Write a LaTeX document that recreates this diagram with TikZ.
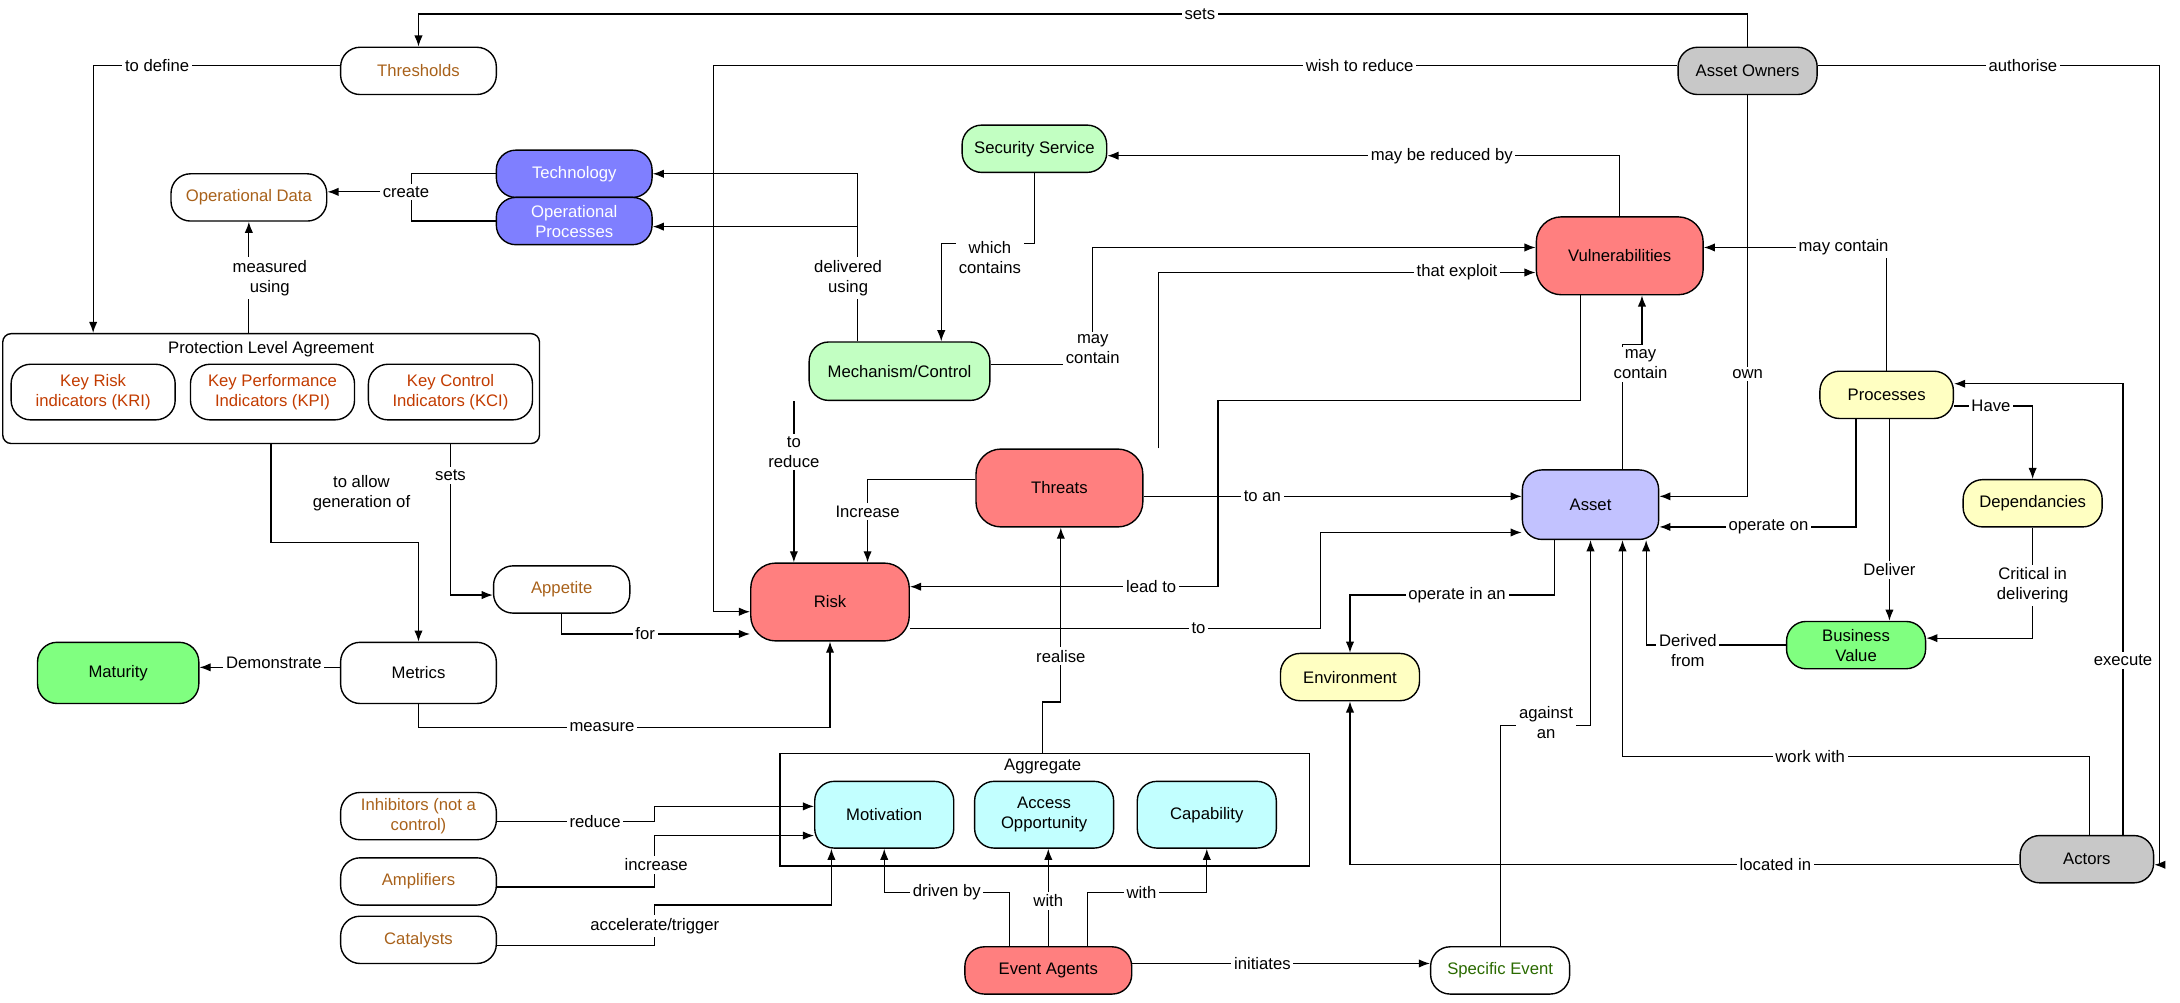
\documentclass[tikz,border=0pt]{standalone}
\usepackage{fontspec}
\setmainfont{Liberation Sans}
\usetikzlibrary{arrows.meta,positioning}
\definecolor{orng}{HTML}{A8611A}
\definecolor{redtxt}{HTML}{C23B00}
\definecolor{grntxt}{HTML}{2A6A00}
\definecolor{redf}{HTML}{FF7F7F}
\definecolor{bluef}{HTML}{7F7FFF}
\definecolor{lgreen}{HTML}{C2FFC2}
\definecolor{green}{HTML}{80FF80}
\definecolor{lyel}{HTML}{FFFFC2}
\definecolor{lav}{HTML}{C2C2FF}
\definecolor{cyanf}{HTML}{C2FFFF}
\definecolor{grayf}{HTML}{C8C8C8}
\tikzset{
  box/.style={draw, line width=0.5pt, rounded corners=7pt, align=center,
    minimum width=56pt, minimum height=17pt, inner sep=1pt, font=\fontsize{6}{7.2}\selectfont},
  big/.style={box, minimum width=60pt, minimum height=28pt, rounded corners=9pt},
  arr/.style={-{Latex[length=4pt,width=3pt]}, line width=0.45pt},
  ln/.style={line width=0.45pt},
  lbl/.style={fill=white, inner sep=1pt, align=center, font=\fontsize{6}{7.2}\selectfont},
}
\begin{document}
\begin{tikzpicture}[x=0.5pt,y=-0.5pt]
  \useasboundingbox (0,0) rectangle (1568,721);
  %Nodes
  \node[box, text=orng] (thr) at (301,51) {Thresholds};
  \node[box, fill=grayf, minimum width=50pt] (own) at (1257,51) {Asset Owners};
  \node[box, text=orng] (opd) at (179,142) {Operational Data};
  \node[box, fill=bluef, text=white] (tec) at (413,125) {Technology};
  \node[box, fill=bluef, text=white] (opp) at (413,159) {Operational\\Processes};
  \node[box, fill=lgreen, minimum width=52pt] (sec) at (744,107) {Security Service};
  \node[big, fill=redf] (vul) at (1165,184) {Vulnerabilities};
  \node[box, fill=lgreen, minimum width=65pt, minimum height=21pt] (mec) at (647,267) {Mechanism/Control};
  \node[box, fill=lyel, minimum width=48pt] (pro) at (1357,284) {Processes};
  \node[big, fill=redf] (thr2) at (762,351) {Threats};
  \node[box, fill=lav, minimum width=49pt, minimum height=25pt] (ast) at (1144,363) {Asset};
  \node[box, fill=lyel, minimum width=50pt] (dep) at (1462,362) {Dependancies};
  \node[box, text=orng, minimum width=49pt] (app) at (404,424) {Appetite};
  \node[big, fill=redf, minimum width=57pt] (rsk) at (597,433) {Risk};
  \node[box, fill=green, minimum width=50pt] (bv) at (1335,464) {Business\\Value};
  \node[box, fill=green, minimum width=58pt, minimum height=22pt] (mat) at (85,484) {Maturity};
  \node[box, minimum width=56pt, minimum height=22pt] (met) at (301,484) {Metrics};
  \node[box, fill=lyel, minimum width=50pt] (env) at (971,487) {Environment};
  \node[box, text=orng] (inh) at (301,587) {Inhibitors (not a\\control)};
  \node[box, text=orng] (amp) at (301,634) {Amplifiers};
  \node[box, text=orng] (cat) at (301,676) {Catalysts};
  \node[box, fill=redf, minimum width=60pt] (eva) at (754,698) {Event Agents};
  \node[box, text=grntxt, minimum width=50pt] (spe) at (1079,698) {Specific Event};
  \node[box, fill=grayf, minimum width=48pt] (act) at (1501,618) {Actors};
  %Protection Level Agreement
  \node[draw, line width=0.5pt, rounded corners=3pt, minimum width=193pt, minimum height=39.5pt] (pla) at (195,279.5) {};
  \node[font=\fontsize{6}{7.2}\selectfont] (plat) at (195,251) {Protection Level Agreement};
  \node[box, text=redtxt, minimum width=59pt, minimum height=20pt] (kri) at (67,282) {Key Risk\\indicators (KRI)};
  \node[box, text=redtxt, minimum width=59pt, minimum height=20pt] (kpi) at (196,282) {Key Performance\\Indicators (KPI)};
  \node[box, text=redtxt, minimum width=59pt, minimum height=20pt] (kci) at (324,282) {Key Control\\Indicators (KCI)};
  %Aggregate
  \node[draw, line width=0.5pt, minimum width=190.5pt, minimum height=40.5pt] (agg) at (751.5,582.5) {};
  \node[font=\fontsize{6}{7.2}\selectfont] (aggt) at (750,551) {Aggregate};
  \node[box, fill=cyanf, minimum width=50pt, minimum height=24pt] (mot) at (636,586) {Motivation};
  \node[box, fill=cyanf, minimum width=50pt, minimum height=24pt] (acc) at (751,586) {Access\\Opportunity};
  \node[box, fill=cyanf, minimum width=50pt, minimum height=24pt] (cap) at (868,586) {Capability};

  %Connectors
  \draw[arr] (own.north) -- (1257,10) -| (thr.north);
  \draw[arr] (thr.west |- 0,47) -| (pla.north -| 67,0);
  \draw[arr] (own.west |- 0,47) -| (513,440) -- (rsk.west |- 0,440);
  \draw[arr] (own.east |- 0,47) -| (1553,622) -- (act.east |- 0,622);
  \draw[arr] (own.south) |- (ast.east |- 0,357);
  \coordinate (cr) at (296,138);
  \draw[ln] (tec.west) -| (cr) |- (opp.west);
  \draw[arr] (cr) -- (opd.east |- cr);
  \draw[arr] (pla.north -| 179,0) -- (opd.south);
  \draw[arr] (mec.north -| 617,0) |- (tec.east);
  \draw[arr] (617,163) -- (opp.east |- 0,163);
  \draw[arr] (sec.south) |- (677,175) -- (mec.north -| 677,0);
  \draw[arr] (vul.north) |- (sec.east |- 0,112);
  \draw[arr] (mec.east |- 0,262) -| (786,178) -- (vul.west |- 0,178);
  \draw[arr] (thr2.north -| 833,0) |- (vul.west |- 0,196);
  \draw[arr] (mec.south -| 571,0) -- (rsk.north -| 571,0);
  \draw[arr] (thr2.west |- 0,345) -| (rsk.north -| 624,0);
  \draw[arr] (thr2.east |- 0,357) -- (ast.west |- 0,357);
  \draw[arr] (vul.south -| 1137,0) |- (876,288) |- (rsk.east |- 0,422);
  \draw[arr] (rsk.east |- 0,452) -| (950,383) -- (ast.west |- 0,383);
  \draw[arr] (ast.north -| 1167,0) -- (1167,248) -| (vul.south -| 1181,0);
  \draw[arr] (pro.north) |- (vul.east |- 0,178);
  \draw[arr] (pro.east |- 0,292) -| (dep.north);
  \draw[arr] (pro.south -| 1335,0) |- (ast.east |- 0,379);
  \draw[arr] (pro.south -| 1359,0) -- (bv.north -| 1359,0);
  \draw[arr] (dep.south) |- (bv.east |- 0,459);
  \draw[arr] (bv.west) -| (ast.south -| 1184,0);
  \draw[arr] (ast.south -| 1118,0) |- (971,428) -- (env.north);
  \draw[arr] (act.north -| 1527,0) |- (pro.east |- 0,276);
  \draw[arr] (act.north -| 1503,0) |- (1167,544) -- (ast.south -| 1167,0);
  \draw[arr] (act.west |- 0,622) -| (env.south);
  \draw[arr] (spe.north) |- (1144,522) -- (ast.south);
  \draw[arr] (eva.east |- 0,693) -- (spe.west |- 0,693);
  \draw[arr] (eva.north -| 726,0) |- (636,642) -- (mot.south);
  \draw[arr] (eva.north -| 754,0) -- (acc.south -| 754,0);
  \draw[arr] (eva.north -| 782,0) |- (868,642) -- (cap.south);
  \draw[arr] (agg.north -| 750,0) |- (763,505) -- (thr2.south -| 763,0);
  \draw[arr] (inh.east |- 0,591) -| (471,580) -- (mot.west |- 0,580);
  \draw[arr] (amp.east |- 0,638) -| (471,601) -- (mot.west |- 0,601);
  \draw[arr] (cat.east |- 0,680) -| (471,651) -| (mot.south -| 598,0);
  \draw[arr] (pla.south -| 195,0) |- (301,390) -- (met.north);
  \draw[arr] (pla.south -| 324,0) |- (app.west |- 0,428);
  \draw[arr] (app.south) |- (rsk.west |- 0,456);
  \draw[arr] (met.west |- 0,480) -- (mat.east |- 0,480);
  \draw[arr] (met.south) |- (597,523) -- (rsk.south);

  %Labels
  \node[lbl] (l1) at (863,10) {sets};
  \node[lbl] (l2) at (113,47) {to define};
  \node[lbl] (l3) at (978,47) {wish to reduce};
  \node[lbl] (l4) at (1455,47) {authorise};
  \node[lbl] (l5) at (1257,269) {own};
  \node[lbl] (l6) at (292,138) {create};
  \node[lbl] (l7) at (194,200) {measured\\using};
  \node[lbl] (l8) at (610,200) {delivered\\using};
  \node[lbl] (l9) at (712,185) {which\\contains};
  \node[lbl] (l10) at (1037,112) {may be reduced by};
  \node[lbl] (l11) at (786,251) {may\\contain};
  \node[lbl] (l12) at (1048,196) {that exploit};
  \node[lbl] (l13) at (571,325) {to\\reduce};
  \node[lbl] (l14) at (624,368) {Increase};
  \node[lbl] (l15) at (908,357) {to an};
  \node[lbl] (l16) at (828,422) {lead to};
  \node[lbl] (l17) at (862,452) {to};
  \node[lbl] (l18) at (1180,262) {may\\contain};
  \node[lbl] (l19) at (1326,178) {may contain};
  \node[lbl] (l20) at (1432,292) {Have};
  \node[lbl] (l21) at (1272,379) {operate on};
  \node[lbl] (l22) at (1359,410) {Deliver};
  \node[lbl] (l23) at (1462,421) {Critical in\\delivering};
  \node[lbl] (l24) at (1214,468) {Derived\\from};
  \node[lbl] (l25) at (1048,428) {operate in an};
  \node[lbl] (l26) at (1527,475) {execute};
  \node[lbl] (l27) at (1302,544) {work with};
  \node[lbl] (l28) at (1277,622) {located in};
  \node[lbl] (l29) at (1112,520) {against\\an};
  \node[lbl] (l30) at (908,693) {initiates};
  \node[lbl] (l31) at (681,642) {driven by};
  \node[lbl] (l32) at (754,648) {with};
  \node[lbl] (l33) at (821,642) {with};
  \node[lbl] (l34) at (763,472) {realise};
  \node[lbl] (l35) at (428,591) {reduce};
  \node[lbl] (l36) at (472,622) {increase};
  \node[lbl] (l37) at (471,666) {accelerate/trigger};
  \node[lbl] (l38) at (260,355) {to allow\\generation of};
  \node[lbl] (l39) at (324,342) {sets};
  \node[lbl] (l40) at (464,456) {for};
  \node[lbl] (l41) at (197,477) {Demonstrate};
  \node[lbl] (l42) at (433,523) {measure};
\end{tikzpicture}
\end{document}
